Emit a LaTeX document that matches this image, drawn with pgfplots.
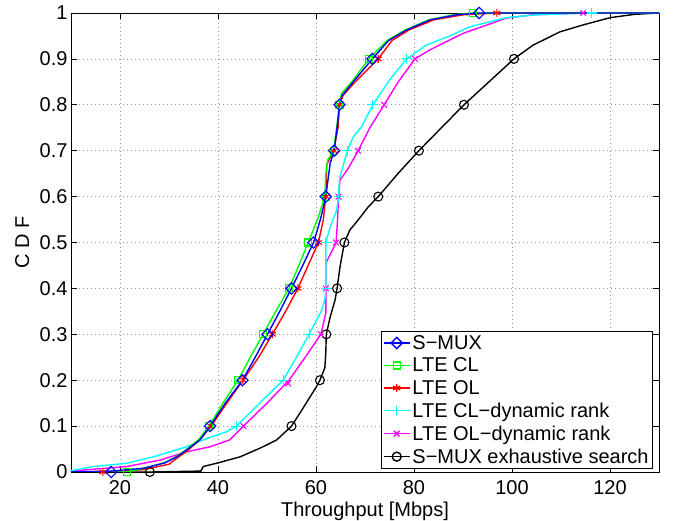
\documentclass[border=0pt]{standalone}
\usepackage{fontspec}
\setmainfont{Liberation Sans}
\usepackage{pgfplots}
\pgfplotsset{compat=1.18}
\definecolor{mblue}{rgb}{0,0,1}
\definecolor{mgreen}{rgb}{0,1,0}
\definecolor{mred}{rgb}{1,0,0}
\definecolor{mcyan}{rgb}{0,1,1}
\definecolor{mmagenta}{rgb}{1,0,1}

\begin{document}
\begin{tikzpicture}
\useasboundingbox (-71pt,-49pt) rectangle (607pt,472pt);
\begin{axis}[
    scale only axis,
    width=588pt, height=459pt,
    xmin=10, xmax=130, ymin=0, ymax=1,
    xtick={20,40,...,120},
    ytick={0,0.1,...,1},
    yticklabels={0,0.1,0.2,0.3,0.4,0.5,0.6,0.7,0.8,0.9,1},
    /pgf/number format/assume math mode=true,
    font=\fontsize{20}{24}\selectfont,
    tick align=inside,
    major tick length=6pt,
    axis line style={line width=0.9pt},
    tick style={line width=0.6pt, black},
    xmajorgrids, ymajorgrids,
    grid style={line width=0.6pt, gray!80, dash pattern=on 1pt off 3pt},
    xlabel={Throughput [Mbps]},
    ylabel={C D F},
    xlabel style={at={(axis description cs:0.5,-0.0975)}, anchor=base},
    ylabel style={at={(axis description cs:-0.083,0.5)}, anchor=center},
    xticklabel style={yshift=-5pt},
    legend cell align=left,
    legend image code/.code={\draw[mark repeat=2,mark phase=2] plot coordinates {(0pt,0pt) (13pt,0pt) (26pt,0pt)};},
    legend style={at={(rel axis cs:0.9898,0.0065)}, anchor=south east,
        draw=black, line width=0.7pt, fill=white, inner sep=2pt,
        font=\fontsize{20}{22}\selectfont, row sep=3pt},
]
% legend entries
\addlegendimage{mblue, line width=1.4pt, mark=square, mark size=4pt, mark options={rotate=45}}
\addlegendentry{S−MUX}
\addlegendimage{mgreen, line width=1.4pt, mark=square, mark size=3.5pt}
\addlegendentry{LTE CL}
\addlegendimage{mred, line width=1.4pt, mark=asterisk, mark size=4pt}
\addlegendentry{LTE OL}
\addlegendimage{mcyan, line width=1.4pt, mark=+, mark size=5pt}
\addlegendentry{LTE CL−dynamic rank}
\addlegendimage{mmagenta, line width=1.4pt, mark=x, mark size=4pt}
\addlegendentry{LTE OL−dynamic rank}
\addlegendimage{black, line width=1.4pt, mark=o, mark size=4.5pt}
\addlegendentry{S−MUX exhaustive search}

% S-MUX exhaustive search (black)
\addplot[black, line width=1.4pt, forget plot] coordinates {
(10,0) (26.1,0) (36.5,0.002) (37.0,0.012) (39.7,0.019) (44.5,0.033) (48.6,0.052)
(52.0,0.07) (55.0,0.1) (56.7,0.128) (58.4,0.157) (60.1,0.186) (60.8,0.2) (61.8,0.227)
(62.0,0.26) (62.1,0.3) (62.9,0.338) (63.9,0.375) (64.3,0.4) (64.9,0.447) (65.8,0.5)
(66.9,0.527) (68.3,0.545) (70.7,0.578) (72.7,0.6) (76.8,0.651) (81.0,0.7) (85.6,0.75)
(90.2,0.8) (95.3,0.85) (100.4,0.9) (104.3,0.93) (109.8,0.959) (114.5,0.974)
(120.1,0.99) (125,0.997) (129.8,1) (130,1)
};
\addplot[black, only marks, mark=o, mark size=4.5pt, line width=1.1pt, forget plot] coordinates {
(26.1,0) (55.0,0.1) (60.8,0.2) (62.1,0.3) (64.3,0.4) (65.8,0.5) (72.7,0.6) (81.0,0.7)
(90.2,0.8) (100.4,0.9)
};

% LTE OL-dynamic rank (magenta)
\addplot[mmagenta, line width=1.4pt, forget plot] coordinates {
(10,0.002) (14.6,0.006) (21.4,0.012) (28.2,0.026) (33.6,0.044) (38.4,0.055) (42.4,0.07)
(45.2,0.1) (50.0,0.15) (54.5,0.2) (57.8,0.25) (61.0,0.3) (62.0,0.346) (62.0,0.455)
(63.2,0.48) (64.1,0.5) (64.4,0.55) (64.6,0.6) (64.9,0.636) (66.5,0.66) (68.6,0.7)
(71.0,0.75) (73.9,0.8) (76.8,0.85) (80.2,0.9) (83.3,0.92) (90.1,0.956) (94.1,0.971)
(98.9,0.989) (104.3,0.996) (114.5,1) (130,1)
};
\addplot[mmagenta, only marks, mark=x, mark size=4pt, line width=1.1pt, forget plot] coordinates {
(45.2,0.1) (54.3,0.193) (61.0,0.3) (62.0,0.4) (64.1,0.5) (64.6,0.6) (68.6,0.7)
(73.9,0.8) (80.2,0.9) (114.5,1)
};

% LTE CL-dynamic rank (cyan)
\addplot[mcyan, line width=1.4pt, forget plot] coordinates {
(10,0.003) (14.6,0.012) (21.4,0.019) (26.8,0.033) (30.2,0.044) (33.6,0.055) (37.7,0.073)
(41.8,0.088) (43.8,0.1) (48.5,0.15) (53.3,0.2) (56.0,0.25) (58.6,0.3) (61.2,0.353)
(61.8,0.375) (62.0,0.4) (62.0,0.5) (62.9,0.534) (64.2,0.57) (64.6,0.6) (64.8,0.64)
(66.4,0.7) (67.6,0.73) (69.3,0.752) (71.6,0.8) (75.0,0.854) (78.5,0.9) (82.5,0.93)
(87.3,0.95) (91.4,0.97) (98.9,0.99) (105,0.996) (116.3,1) (130,1)
};
\addplot[mcyan, only marks, mark=+, mark size=5pt, line width=1.1pt, forget plot] coordinates {
(43.8,0.1) (53.3,0.2) (58.6,0.3) (62.0,0.4) (62.0,0.5) (64.6,0.6) (66.4,0.7)
(71.6,0.8) (78.5,0.9) (116.3,1)
};

% LTE OL (red)
\addplot[mred, line width=1.4pt, forget plot] coordinates {
(10,0) (16.5,0) (24.8,0.005) (30.0,0.017) (31.6,0.03) (33.6,0.045) (36.3,0.07)
(38.6,0.1) (41.8,0.15) (45.1,0.2) (48.3,0.25) (51.1,0.3) (53.8,0.35) (56.3,0.4)
(58.4,0.45) (60.5,0.5) (61.5,0.55) (62.0,0.6) (62.2,0.67) (63.6,0.7) (64.5,0.75)
(64.8,0.8) (65.5,0.82) (68.0,0.85) (72.7,0.9) (75.5,0.94) (79,0.963) (84,0.985)
(90,0.996) (96.9,1) (130,1)
};
\addplot[mred, only marks, mark=asterisk, mark size=4pt, line width=1.1pt, forget plot] coordinates {
(16.5,0) (38.6,0.1) (45.1,0.2) (51.1,0.3) (56.3,0.4) (60.5,0.5) (62.0,0.6) (63.6,0.7)
(64.8,0.8) (72.7,0.9) (96.9,1)
};

% LTE CL (green)
\addplot[mgreen, line width=1.4pt, forget plot] coordinates {
(10,0) (21.4,0) (24.8,0.008) (29.0,0.02) (31.4,0.033) (33.4,0.048) (36.0,0.07)
(38.2,0.1) (41.0,0.15) (44.1,0.2) (46.6,0.25) (49.2,0.3) (51.8,0.35) (54.5,0.4)
(56.5,0.45) (58.4,0.5) (60.3,0.55) (61.8,0.6) (62.0,0.65) (62.4,0.68) (63.6,0.7)
(64.2,0.75) (64.8,0.8) (65.2,0.825) (67.3,0.85) (70.8,0.9) (74.5,0.94) (78.2,0.963)
(83,0.985) (88,0.996) (92,1) (130,1)
};
\addplot[mgreen, only marks, mark=square, mark size=3.5pt, line width=1.1pt, forget plot] coordinates {
(21.4,0) (38.2,0.1) (44.1,0.2) (49.2,0.3) (54.5,0.4) (58.4,0.5) (62.0,0.6) (63.6,0.7)
(64.8,0.8) (70.8,0.9) (92,1)
};

% S-MUX (blue)
\addplot[mblue, line width=1.4pt, forget plot] coordinates {
(10,0) (18.2,0.002) (24.8,0.008) (29.2,0.02) (31.6,0.033) (33.6,0.048) (36.3,0.07)
(38.4,0.1) (41.5,0.15) (45.0,0.2) (47.6,0.25) (50.1,0.3) (52.6,0.35) (55.0,0.4)
(57.3,0.45) (59.5,0.5) (60.9,0.55) (62.0,0.6) (62.9,0.673) (63.7,0.7) (64.3,0.75)
(64.8,0.8) (65.3,0.82) (67.6,0.85) (71.5,0.9) (74.8,0.94) (78.5,0.963) (83.3,0.985)
(88.7,0.996) (93.3,1) (130,1)
};
\addplot[mblue, only marks, mark=square, mark size=4pt, mark options={rotate=45}, line width=1.1pt, forget plot] coordinates {
(18.2,0) (38.4,0.1) (45.0,0.2) (50.1,0.3) (55.0,0.4) (59.5,0.5) (62.0,0.6) (63.7,0.7)
(64.8,0.8) (71.5,0.9) (93.3,1)
};
\end{axis}
\end{tikzpicture}
\end{document}
